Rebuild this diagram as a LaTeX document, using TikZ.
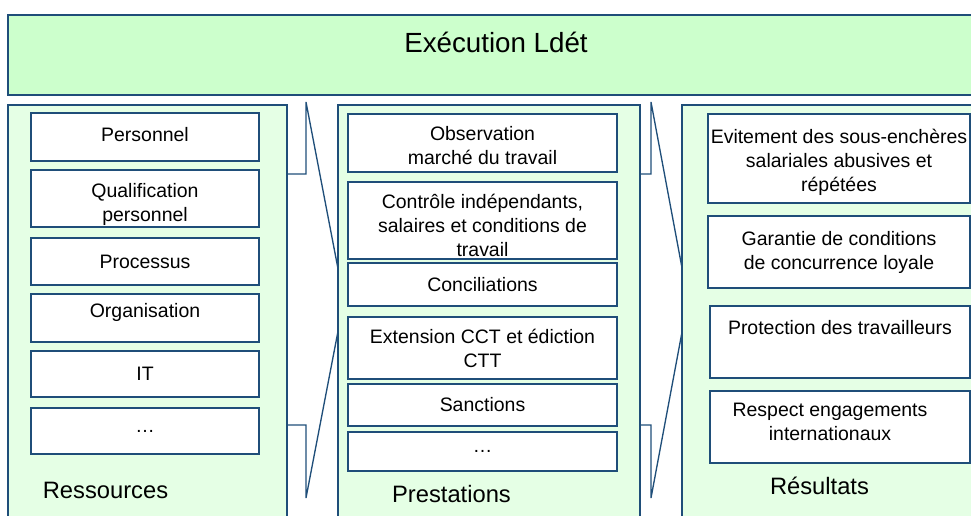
\documentclass[tikz,border=0pt]{standalone}
\usepackage{fontspec}
\setmainfont{Liberation Sans}
\usetikzlibrary{positioning}
\definecolor{ldtblue}{RGB}{31,78,121}
\definecolor{ldtgreen}{RGB}{204,255,204}
\definecolor{ldtpale}{RGB}{229,255,229}
\newcommand{\txtdown}[1]{\rule{0pt}{#1}}
\newcommand{\txtup}[1]{\rule[-#1]{0pt}{#1}}

\begin{document}
\begin{tikzpicture}[x=0.75pt,y=-0.75pt,
  pxsize/.style 2 args={minimum width=#1*0.75pt,minimum height=#2*0.75pt},
  column/.style={draw=ldtblue,line width=1.5pt,fill=ldtpale,inner sep=0pt,outer sep=0pt},
  item/.style={draw=ldtblue,line width=1.5pt,fill=white,inner sep=0pt,align=center,font=\fontsize{14.6}{18}\selectfont},
  heading/.style={font=\fontsize{17.8}{21}\selectfont,inner sep=0pt},
  chev/.style={draw=ldtblue,line width=1pt}]

\useasboundingbox (0,0) rectangle (971,516);
\clip (0,0) rectangle (971,516);

\node[column,fill=ldtgreen,pxsize={982}{80}] (top) at (499,55) {};
\node[font=\fontsize{20.8}{25}\selectfont,inner sep=0pt] (title) at (496,42) {Exécution Ldét};

\node[column,pxsize={279}{425}] (col1) at (147.5,317.5) {};
\node[item,pxsize={228}{48},text depth=4.5pt] (pers) at (145,137) {Personnel};
\node[item,pxsize={228}{57}] (qual) at (145,198.5) {\txtdown{19.6pt}Qualification\\personnel};
\node[item,pxsize={228}{47}] (proc) at (145,261.5) {Processus};
\node[item,pxsize={228}{48},text depth=12pt] (orga) at (145,318) {Organisation};
\node[item,pxsize={228}{46}] (it) at (145,374) {IT};
\node[item,pxsize={228}{46}] (etc1) at (145,431) {…};
\node[heading] (res) at (105.5,490) {Ressources};

\draw[chev] (col1.east |- 0,174) -- (306,174) -- (306,102) -- (344,300) -- (306,498) -- (306,425) -- (col1.east |- 0,425);

\node[column,pxsize={302}{425}] (col2) at (489,317.5) {};
\node[item,pxsize={269}{58}] (obs) at (482.5,143) {\txtdown{15.1pt}Observation\\marché du travail};
\node[item,pxsize={269}{77}] (ctrl) at (482.5,220.5) {\txtdown{18.1pt}Contrôle indépendants,\\salaires et conditions de\\travail};
\node[item,pxsize={269}{43}] (conc) at (482.5,284.5) {Conciliations};
\node[item,pxsize={269}{62}] (ext) at (482.5,348) {Extension CCT et édiction\\CTT};
\node[item,pxsize={269}{42}] (sanc) at (482.5,405) {Sanctions};
\node[item,pxsize={269}{39}] (etc2) at (482.5,451.5) {…};
\node[heading] (pres) at (451.5,494) {Prestations};

\draw[chev] (col2.east |- 0,174) -- (651,174) -- (651,102) -- (688,300) -- (651,498) -- (651,425) -- (col2.east |- 0,425);

\node[column,pxsize={318}{425}] (col3) at (841,317.5) {};
\node[item,pxsize={262}{89}] (evit) at (839,158.5) {\txtdown{16.6pt}Evitement des sous-enchères\\salariales abusives et\\répétées};
\node[item,pxsize={262}{72}] (gar) at (839,252) {Garantie de conditions\\de concurrence loyale};
\node[item,pxsize={260}{72},text depth=22.5pt] (prot) at (840,342) {Protection des travailleurs};
\node[item,pxsize={260}{72}] (resp) at (840,427) {Respect engagements\hspace*{15pt}\\internationaux\hspace*{15pt}\txtup{7.5pt}};
\node[heading] (resu) at (819.5,486) {Résultats};

\end{tikzpicture}
\end{document}
